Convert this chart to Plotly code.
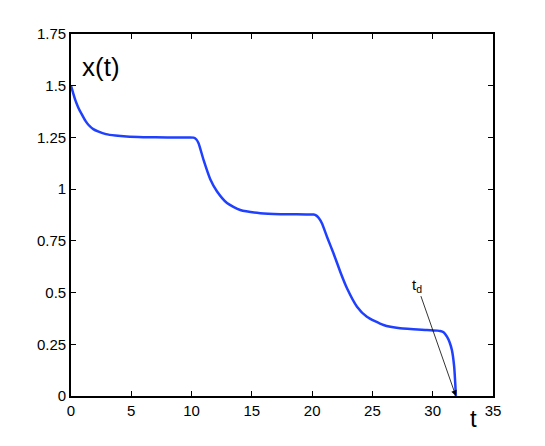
import plotly.graph_objects as go

# data
t_vals = [0.0, 0.15, 0.36, 0.6, 0.91, 1.2, 1.46, 1.85, 2.29, 2.9, 3.67, 4.6, 6.0, 8.0, 9.8,
          10.17, 10.4, 10.58, 11.0, 11.55, 12.1, 12.94, 14.04, 15.7, 17.36, 19.5, 20.12,
          20.35, 20.55, 20.81, 21.23, 21.77, 22.33, 22.89, 23.72, 24.54, 25.92, 27.3, 29.52,
          30.4, 30.62, 30.9, 31.18, 31.4, 31.59, 31.78, 31.87, 31.92]
x_vals = [1.5, 1.47, 1.43, 1.395, 1.36, 1.33, 1.31, 1.29, 1.278, 1.266, 1.259, 1.254, 1.251, 1.25, 1.25,
          1.249, 1.24, 1.222, 1.14, 1.048, 0.99, 0.933, 0.899, 0.884, 0.879, 0.878, 0.877,
          0.872, 0.86, 0.835, 0.77, 0.69, 0.601, 0.521, 0.432, 0.383, 0.343, 0.327, 0.319,
          0.316, 0.314, 0.308, 0.287, 0.26, 0.222, 0.142, 0.06, 0.0]

x_ticks = [0, 5, 10, 15, 20, 25, 30, 35]
y_ticks = [0, 0.25, 0.5, 0.75, 1, 1.25, 1.5, 1.75]
y_tick_text = ["0", "0.25", "0.5", "0.75", "1", "1.25", "1.5", "1.75"]

td = 31.92

FONT = "Liberation Sans, Arial, sans-serif"

fig = go.Figure()
fig.add_trace(go.Scatter(x=t_vals, y=x_vals, mode="lines",
                         line=dict(color="#2040ff", width=2.5, shape="spline", smoothing=0.6),
                         showlegend=False))

axis_common = dict(showgrid=False, zeroline=False, showline=True, linecolor="black",
                   linewidth=1.6, mirror="ticks", ticks="inside", ticklen=5,
                   tickwidth=1, tickcolor="black",
                   tickfont=dict(family=FONT, size=15, color="black"))

fig.update_xaxes(range=[0, 35], tickvals=x_ticks, ticktext=[str(v) for v in x_ticks], **axis_common)
fig.update_yaxes(range=[0, 1.75], tickvals=y_ticks, ticktext=y_tick_text, **axis_common)

fig.add_annotation(x=0.77, y=1.59, xref="x", yref="y", text="x(t)", showarrow=False,
                   xanchor="left", yanchor="middle",
                   font=dict(family=FONT, size=26, color="black"))
fig.add_annotation(x=33.36 / 35, y=-0.061, xref="paper", yref="paper", text="t", showarrow=False,
                   xanchor="center", yanchor="middle",
                   font=dict(family=FONT, size=24, color="black"))
fig.add_annotation(x=td, y=0, xref="x", yref="y", ax=28.7, ay=0.536, axref="x", ayref="y",
                   text="t<sub>d</sub>", showarrow=True, arrowhead=2, arrowsize=1.4,
                   arrowwidth=0.8, arrowcolor="black", standoff=0,
                   font=dict(family=FONT, size=15, color="black"))

fig.update_layout(width=537, height=438, plot_bgcolor="white", paper_bgcolor="white",
                  margin=dict(l=63, r=52, t=26, b=50))

fig.write_html("out.html")
